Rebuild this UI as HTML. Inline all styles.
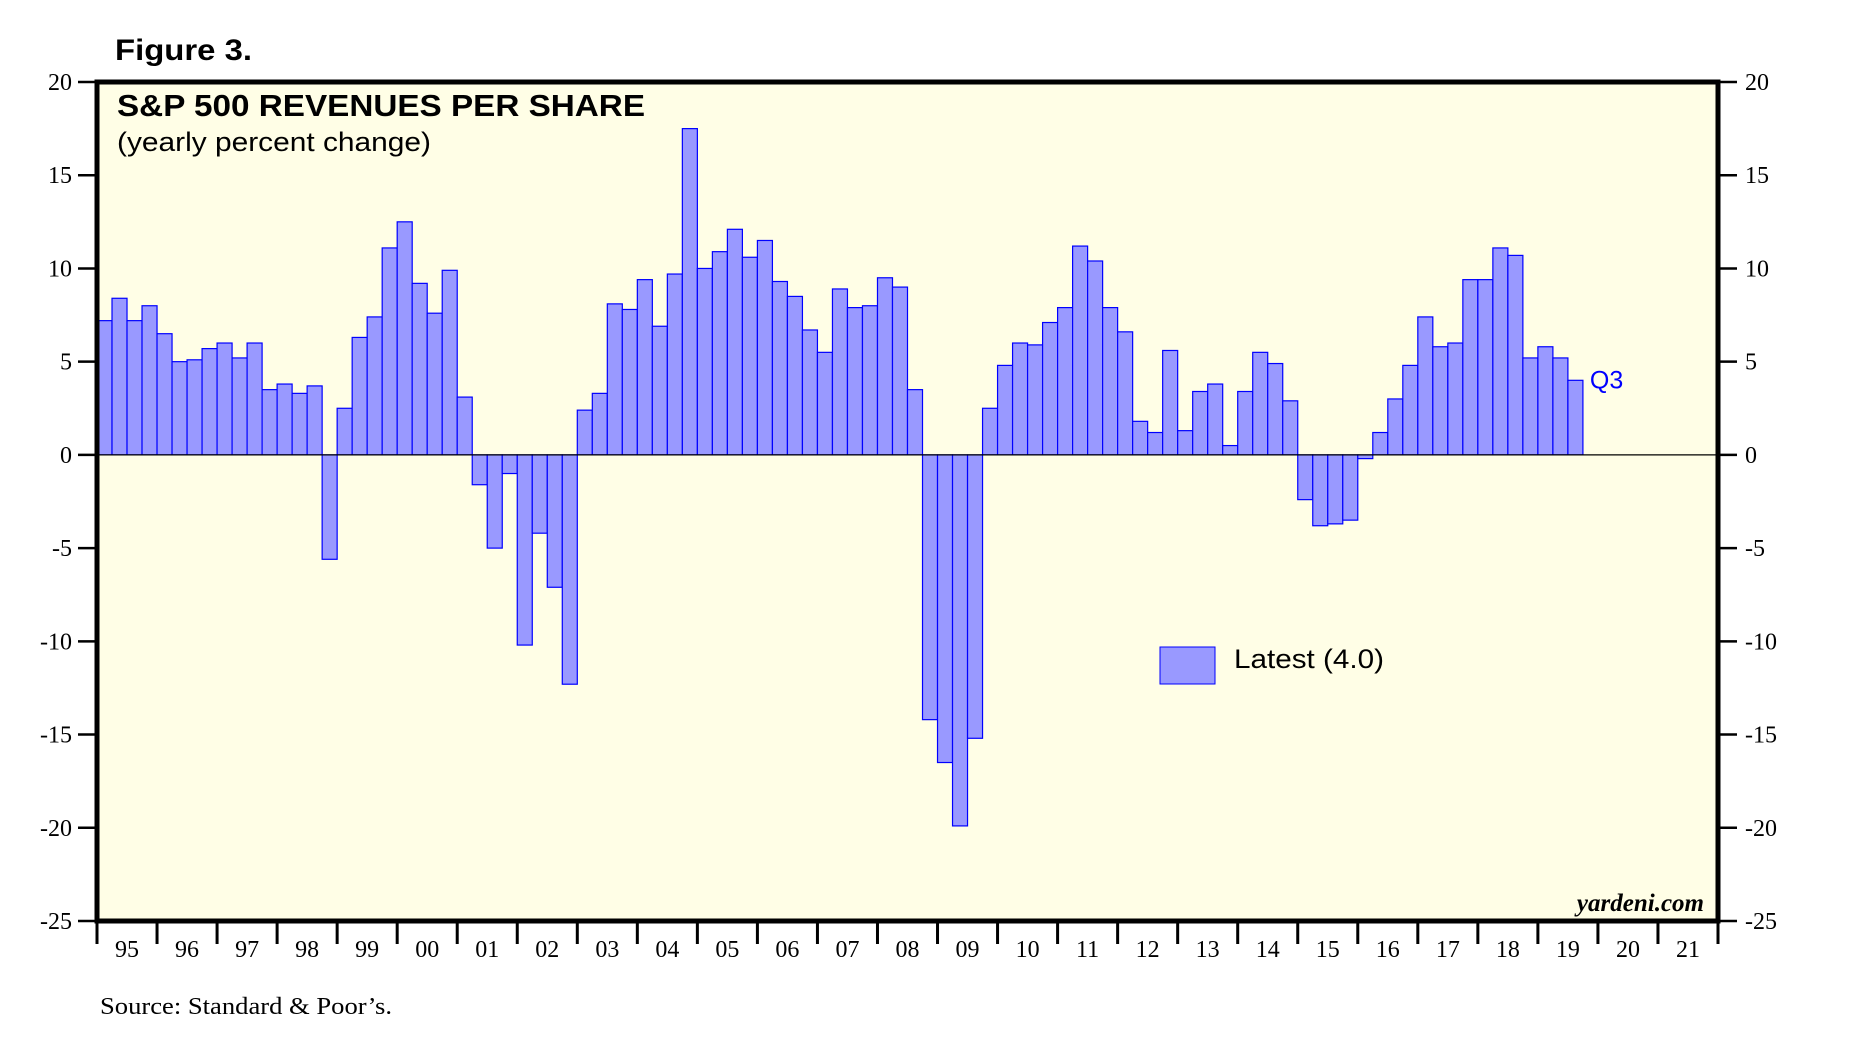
<!DOCTYPE html>
<html><head><meta charset="utf-8"><style>
html,body{margin:0;padding:0;background:#fff;}
svg{display:block;}
</style></head><body>
<svg id="chart" width="1858" height="1056" viewBox="0 0 1858 1056" xmlns="http://www.w3.org/2000/svg">
<text x="115" y="60" font-family="Liberation Sans, sans-serif" font-weight="bold" font-size="30" textLength="137" lengthAdjust="spacingAndGlyphs">Figure 3.</text>
<rect x="97" y="82" width="1621" height="839" fill="#fffee6"/>
<g id="bars"></g>
<g id="axes"></g>
<rect x="97" y="82" width="1621" height="839" fill="none" stroke="#000" stroke-width="5"/>
<text x="117" y="116" font-family="Liberation Sans, sans-serif" font-weight="bold" font-size="31" textLength="528" lengthAdjust="spacingAndGlyphs">S&amp;P 500 REVENUES PER SHARE</text>
<text x="117" y="151" font-family="Liberation Sans, sans-serif" font-size="27" textLength="314" lengthAdjust="spacingAndGlyphs">(yearly percent change)</text>
<rect x="1160" y="647" width="55" height="37" fill="#9999ff" stroke="#0000ff" stroke-width="1"/>
<text x="1234" y="668" font-family="Liberation Sans, sans-serif" font-size="27" textLength="150" lengthAdjust="spacingAndGlyphs">Latest (4.0)</text>
<text x="1704" y="911" text-anchor="end" font-family="Liberation Serif, serif" font-weight="bold" font-style="italic" font-size="25">yardeni.com</text>
<text x="100" y="1014" font-family="Liberation Serif, serif" font-size="24" textLength="292" lengthAdjust="spacingAndGlyphs">Source: Standard &amp; Poor’s.</text>
</svg>
<script>
const values = [7.2,8.4,7.2,8.0, 6.5,5.0,5.1,5.7, 6.0,5.2,6.0,3.5, 3.8,3.3,3.7,-5.6,
 2.5,6.3,7.4,11.1, 12.5,9.2,7.6,9.9, 3.1,-1.6,-5.0,-1.0, -10.2,-4.2,-7.1,-12.3,
 2.4,3.3,8.1,7.8, 9.4,6.9,9.7,17.5, 10.0,10.9,12.1,10.6, 11.5,9.3,8.5,6.7,
 5.5,8.9,7.9,8.0, 9.5,9.0,3.5,-14.2, -16.5,-19.9,-15.2,2.5, 4.8,6.0,5.9,7.1,
 7.9,11.2,10.4,7.9, 6.6,1.8,1.2,5.6, 1.3,3.4,3.8,0.5, 3.4,5.5,4.9,2.9,
 -2.4,-3.8,-3.7,-3.5, -0.2,1.2,3.0,4.8, 7.4,5.8,6.0,9.4, 9.4,11.1,10.7,5.2,
 5.8,5.2,4.0];
const yearLabels = ["95","96","97","98","99","00","01","02","03","04","05","06","07","08","09","10","11","12","13","14","15","16","17","18","19","20","21"];
const yTicks = [20,15,10,5,0,-5,-10,-15,-20,-25];
const latestLabel = "Q3";

const NS="http://www.w3.org/2000/svg";
const X0=97, X1=1718, Y0=82, Y1=921;
const yearW=(X1-X0)/27, qW=yearW/4;
function yScale(v){return Y0+(20-v)*(Y1-Y0)/45;}
function xScale(i){return X0+i*qW;}
function mk(tag,attrs,parent){const e=document.createElementNS(NS,tag);for(const k in attrs)e.setAttribute(k,attrs[k]);parent.appendChild(e);return e;}
const bars=document.getElementById('bars'), axes=document.getElementById('axes');
values.forEach((v,i)=>{
  const y0=yScale(0), y=yScale(v);
  const r=mk('rect',{x:xScale(i),y:Math.min(y,y0),width:qW,height:Math.abs(y-y0),fill:'#9999ff',stroke:'#0000ff','stroke-width':1.2},bars);
  
  
});
const last=values.length-1;
const q=mk('text',{x:xScale(last)+qW+7,y:yScale(values[last])+8,fill:'#0000ff','font-family':'Liberation Sans, sans-serif','font-size':25},axes);
q.textContent=latestLabel;


const zl=mk('line',{x1:X0,x2:X1,y1:yScale(0),y2:yScale(0),stroke:'#000','stroke-width':1.2},axes);


yTicks.forEach(t=>{
  const y=yScale(t);
  const l1=mk('line',{x1:78,x2:X0,y1:y,y2:y,stroke:'#000','stroke-width':2.5},axes);
  
  
  const l2=mk('line',{x1:X1,x2:1737,y1:y,y2:y,stroke:'#000','stroke-width':2.5},axes);
  
  
  const a=mk('text',{x:72,y:y+8,'text-anchor':'end','font-family':'Liberation Serif, serif','font-size':24},axes);
  a.textContent=t;
  
  
  const b=mk('text',{x:1745,y:y+8,'font-family':'Liberation Serif, serif','font-size':24},axes);
  b.textContent=t;
  
  
});
for(let k=0;k<=yearLabels.length;k++){
  const x=X0+k*yearW;
  const tl=mk('line',{x1:x,x2:x,y1:Y1,y2:944,stroke:'#000','stroke-width':3},axes);
  
  
  if(k<yearLabels.length){
    const t=mk('text',{x:x+yearW/2,y:957,'text-anchor':'middle','font-family':'Liberation Serif, serif','font-size':24},axes);
    t.textContent=yearLabels[k];
    
    
  }
}
</script>
</body></html>
